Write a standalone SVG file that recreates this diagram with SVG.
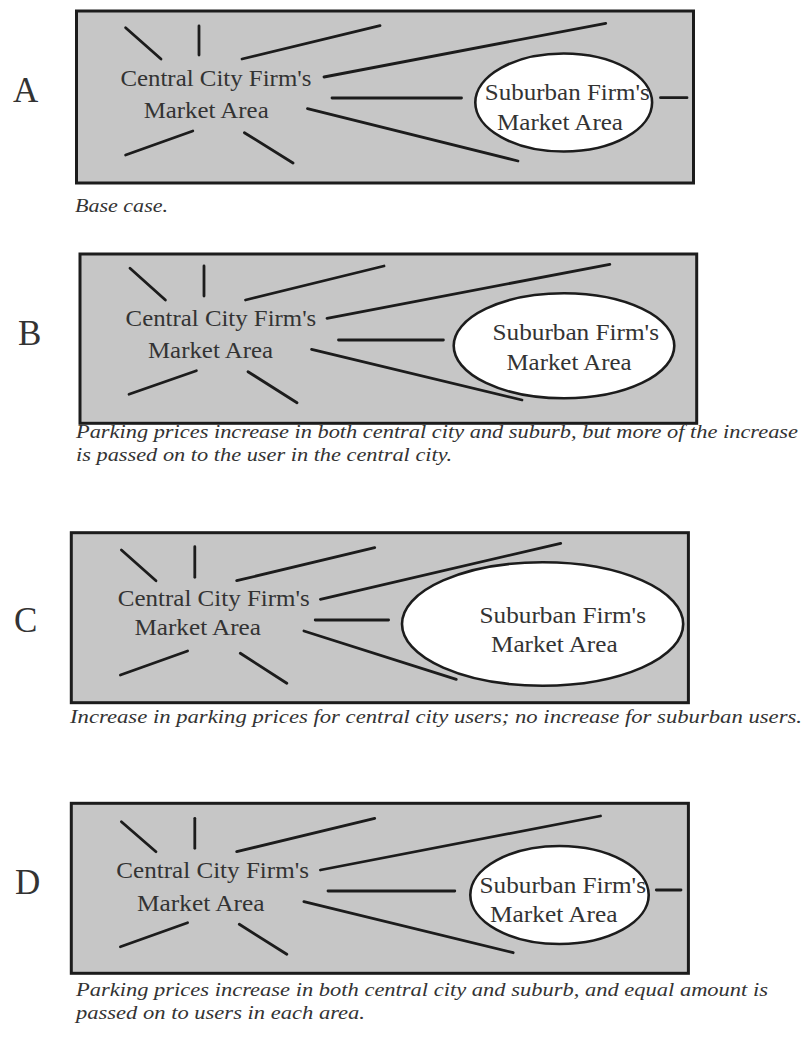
<svg xmlns="http://www.w3.org/2000/svg" width="806" height="1041" viewBox="0 0 806 1041">
<style>
.bg{fill:#c6c6c6;stroke:#1c1c1c;stroke-width:3}
.ell{fill:#ffffff;stroke:#1c1c1c;stroke-width:2.6}
.ray{stroke:#1c1c1c;stroke-width:2.8;stroke-linecap:round;fill:none}
.lbl{font-family:"Liberation Serif",serif;font-size:23px;fill:#333333}
.cap{font-family:"Liberation Serif",serif;font-style:italic;font-size:19.5px;fill:#333333}
.big{font-family:"Liberation Serif",serif;font-size:35px;fill:#333333}
</style>
<rect width="806" height="1041" fill="#ffffff"/>

<!-- Panel A -->
<g id="panel-A">
  <text class="big" x="13" y="102">A</text>
  <rect id="box-A" class="bg" x="76.5" y="11" width="617" height="172"/>
  <g id="connectors-A">
    <line class="ray" x1="125.6" y1="27.7" x2="161" y2="59"/>
    <line class="ray" x1="199" y1="26" x2="199" y2="55"/>
    <line class="ray" x1="242" y1="59" x2="380" y2="25.7"/>
    <line class="ray" x1="324" y1="77" x2="605.7" y2="23.3"/>
    <line class="ray" x1="332" y1="98" x2="461.5" y2="98"/>
    <line class="ray" x1="307.5" y1="108.7" x2="518" y2="161"/>
    <line class="ray" x1="125.6" y1="155" x2="192.8" y2="131"/>
    <line class="ray" x1="244.4" y1="132.7" x2="293" y2="163"/>
    <line class="ray" x1="660.5" y1="97.7" x2="687" y2="97.7"/>
  </g>
  <g id="central-A">
    <text class="lbl" x="120.4" y="86" textLength="191" lengthAdjust="spacingAndGlyphs">Central City Firm's</text>
    <text class="lbl" x="143.7" y="118" textLength="125" lengthAdjust="spacingAndGlyphs">Market Area</text>
  </g>
  <g id="suburban-A">
    <ellipse class="ell" cx="563.7" cy="102.5" rx="88.4" ry="49"/>
    <text class="lbl" x="484.8" y="100" textLength="165" lengthAdjust="spacingAndGlyphs">Suburban Firm's</text>
    <text class="lbl" x="497" y="130" textLength="126" lengthAdjust="spacingAndGlyphs">Market Area</text>
  </g>
  <text class="cap" x="75" y="212" textLength="93" lengthAdjust="spacingAndGlyphs">Base case.</text>
</g>

<!-- Panel B -->
<g id="panel-B">
  <text class="big" x="18" y="345">B</text>
  <rect id="box-B" class="bg" x="80" y="254" width="616.7" height="169.3"/>
  <g id="connectors-B">
    <line class="ray" x1="130" y1="268.3" x2="165.4" y2="300"/>
    <line class="ray" x1="204" y1="266" x2="204" y2="296"/>
    <line class="ray" x1="245.5" y1="300" x2="384" y2="266"/>
    <line class="ray" x1="327" y1="318.3" x2="609.8" y2="264.3"/>
    <line class="ray" x1="338.5" y1="340" x2="443.4" y2="340"/>
    <line class="ray" x1="311.6" y1="349.3" x2="522" y2="400"/>
    <line class="ray" x1="129" y1="394.3" x2="196.4" y2="370.7"/>
    <line class="ray" x1="248" y1="371.7" x2="297" y2="402.7"/>
  </g>
  <g id="central-B">
    <text class="lbl" x="125.6" y="326" textLength="190.7" lengthAdjust="spacingAndGlyphs">Central City Firm's</text>
    <text class="lbl" x="148" y="358.3" textLength="125" lengthAdjust="spacingAndGlyphs">Market Area</text>
  </g>
  <g id="suburban-B">
    <ellipse class="ell" cx="564" cy="345.8" rx="110.3" ry="52.5"/>
    <text class="lbl" x="492.5" y="340" textLength="166.5" lengthAdjust="spacingAndGlyphs">Suburban Firm's</text>
    <text class="lbl" x="506.5" y="370" textLength="125" lengthAdjust="spacingAndGlyphs">Market Area</text>
  </g>
  <text class="cap" x="76" y="438" textLength="722" lengthAdjust="spacingAndGlyphs">Parking prices increase in both central city and suburb, but more of the increase</text>
  <text class="cap" x="76" y="461" textLength="376" lengthAdjust="spacingAndGlyphs">is passed on to the user in the central city.</text>
</g>

<!-- Panel C -->
<g id="panel-C">
  <text class="big" x="14" y="632">C</text>
  <rect id="box-C" class="bg" x="71.3" y="532.7" width="617.1" height="170"/>
  <g id="connectors-C">
    <line class="ray" x1="121.4" y1="550" x2="156" y2="580.7"/>
    <line class="ray" x1="194.8" y1="546.7" x2="194.8" y2="577.3"/>
    <line class="ray" x1="236.7" y1="580.7" x2="374.7" y2="547.7"/>
    <line class="ray" x1="320.4" y1="599.3" x2="560.7" y2="543.3"/>
    <line class="ray" x1="315.2" y1="620" x2="388.6" y2="620"/>
    <line class="ray" x1="303.9" y1="631" x2="456.3" y2="679.3"/>
    <line class="ray" x1="120.4" y1="675" x2="187.6" y2="651"/>
    <line class="ray" x1="240.3" y1="653.3" x2="286.8" y2="683.3"/>
  </g>
  <g id="central-C">
    <text class="lbl" x="117.8" y="606" textLength="192" lengthAdjust="spacingAndGlyphs">Central City Firm's</text>
    <text class="lbl" x="134.4" y="635" textLength="126.6" lengthAdjust="spacingAndGlyphs">Market Area</text>
  </g>
  <g id="suburban-C">
    <ellipse class="ell" cx="542.6" cy="624" rx="140.6" ry="61.7"/>
    <text class="lbl" x="479.6" y="622.7" textLength="166.4" lengthAdjust="spacingAndGlyphs">Suburban Firm's</text>
    <text class="lbl" x="491" y="651.7" textLength="126.6" lengthAdjust="spacingAndGlyphs">Market Area</text>
  </g>
  <text class="cap" x="70" y="723" textLength="732" lengthAdjust="spacingAndGlyphs">Increase in parking prices for central city users; no increase for suburban users.</text>
</g>

<!-- Panel D -->
<g id="panel-D">
  <text class="big" x="15" y="894">D</text>
  <rect id="box-D" class="bg" x="71.3" y="803.3" width="617.1" height="170"/>
  <g id="connectors-D">
    <line class="ray" x1="121.4" y1="821.7" x2="156" y2="851.7"/>
    <line class="ray" x1="194.8" y1="818.3" x2="194.8" y2="848.3"/>
    <line class="ray" x1="236.7" y1="851.7" x2="374.7" y2="818.3"/>
    <line class="ray" x1="320.4" y1="870" x2="600.5" y2="816"/>
    <line class="ray" x1="328" y1="891" x2="454.8" y2="891"/>
    <line class="ray" x1="303.9" y1="901.7" x2="513.2" y2="952.7"/>
    <line class="ray" x1="120.4" y1="946.7" x2="187.6" y2="922.7"/>
    <line class="ray" x1="239.3" y1="924.3" x2="286.8" y2="954.3"/>
    <line class="ray" x1="656.3" y1="890" x2="681" y2="890"/>
  </g>
  <g id="central-D">
    <text class="lbl" x="116.3" y="878.3" textLength="192.7" lengthAdjust="spacingAndGlyphs">Central City Firm's</text>
    <text class="lbl" x="137" y="910.7" textLength="127.6" lengthAdjust="spacingAndGlyphs">Market Area</text>
  </g>
  <g id="suburban-D">
    <ellipse class="ell" cx="559.5" cy="895" rx="89.2" ry="49"/>
    <text class="lbl" x="479.6" y="893.3" textLength="166.4" lengthAdjust="spacingAndGlyphs">Suburban Firm's</text>
    <text class="lbl" x="490" y="921.7" textLength="127.6" lengthAdjust="spacingAndGlyphs">Market Area</text>
  </g>
  <text class="cap" x="76" y="996" textLength="692" lengthAdjust="spacingAndGlyphs">Parking prices increase in both central city and suburb, and equal amount is</text>
  <text class="cap" x="76" y="1019" textLength="289" lengthAdjust="spacingAndGlyphs">passed on to users in each area.</text>
</g>
</svg>
